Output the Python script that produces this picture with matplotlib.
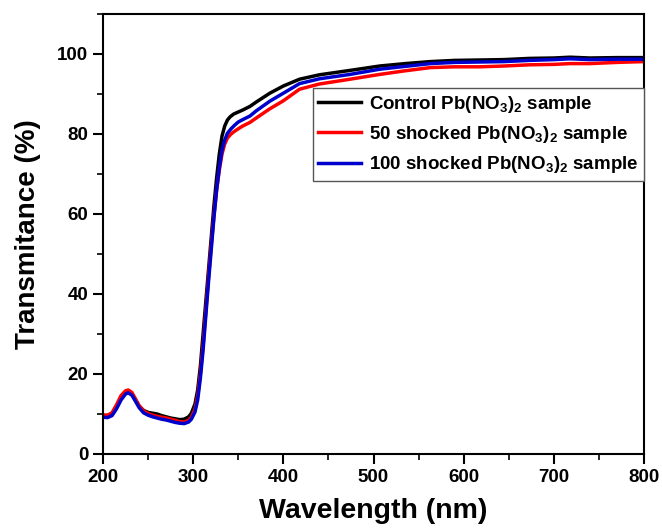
import matplotlib
matplotlib.use('Agg')
import matplotlib.pyplot as plt
from matplotlib.ticker import MultipleLocator

plt.rcParams['font.family'] = ['Liberation Sans', 'DejaVu Sans']
plt.rcParams['font.weight'] = 'bold'
plt.rcParams['mathtext.fontset'] = 'custom'
plt.rcParams['mathtext.rm'] = 'Liberation Sans:bold'
plt.rcParams['mathtext.bf'] = 'Liberation Sans:bold'
plt.rcParams['mathtext.it'] = 'Liberation Sans:bold'

# wavelength (nm) and transmittance (%)
wl_control = [200, 205, 210, 215, 220, 225, 228, 232, 236, 240, 245, 250, 255, 260, 265, 270,
              275, 280, 285, 290, 295, 298, 302, 305, 308, 311, 314, 317, 320, 323, 326, 329,
              332, 335, 338, 341, 345, 350, 355, 363, 370, 385, 400, 418, 440, 474, 507, 535,
              563, 590, 618, 645, 673, 700, 718, 740, 770, 800]
t_control = [9.7, 9.6, 10.0, 11.8, 14.0, 15.3, 15.5, 15.0, 13.5, 12.0, 10.9, 10.4, 10.2, 10.0, 9.6, 9.3,
             9.0, 8.8, 8.6, 8.7, 9.3, 10.2, 12.5, 16, 22, 30, 38, 46, 54, 62, 69, 75,
             79.5, 82, 83.5, 84.3, 85, 85.5, 86, 86.9, 88, 90.2, 92, 93.7, 94.8, 95.9, 97.0, 97.6,
             98.1, 98.4, 98.5, 98.6, 98.9, 99.0, 99.2, 99.0, 99.1, 99.1]

wl_50 = [200, 205, 210, 215, 220, 225, 228, 232, 236, 240, 245, 250, 255, 260, 265, 270,
         275, 280, 285, 290, 295, 298, 302, 305, 308, 311, 314, 317, 320, 323, 326, 329,
         332, 335, 338, 342, 346, 350, 355, 363, 370, 385, 400, 418, 440, 474, 507, 535,
         563, 590, 618, 645, 673, 700, 718, 740, 770, 800]
t_50 = [9.7, 9.7, 10.3, 12.3, 14.6, 15.8, 16.0, 15.4, 13.8, 12.1, 10.8, 10.1, 9.7, 9.4, 9.2, 9.0,
        8.7, 8.4, 8.1, 8.0, 8.4, 9.2, 11.2, 14.5, 20, 27, 35.5, 44, 52, 59.5, 66, 71,
        75, 77.5, 79, 80, 80.7, 81.3, 82, 82.9, 84, 86.3, 88.3, 91.2, 92.5, 93.7, 94.9, 95.8,
        96.6, 96.8, 96.8, 97.0, 97.3, 97.4, 97.6, 97.6, 97.9, 98.1]

wl_100 = wl_50
t_100 = [9.2, 9.1, 9.6, 11.3, 13.5, 15.0, 15.3, 14.7, 13.2, 11.6, 10.3, 9.7, 9.3, 9.0, 8.7, 8.5,
         8.2, 7.9, 7.7, 7.6, 8.0, 8.7, 10.5, 13.5, 19, 26, 34.5, 43, 51, 59, 66, 71.5,
         76, 78.5, 80.2, 81.3, 82.2, 83, 83.6, 84.5, 85.8, 88.2, 90.2, 92.6, 93.8, 94.9, 96.2, 96.9,
         97.6, 97.9, 98.0, 98.1, 98.4, 98.6, 98.8, 98.6, 98.7, 98.7]

labels = [r'Control Pb(NO$_3$)$_2$ sample',
          r'50 shocked Pb(NO$_3$)$_2$ sample',
          r'100 shocked Pb(NO$_3$)$_2$ sample']

fig = plt.figure(figsize=(6.62, 5.28), dpi=100)
ax = fig.add_axes([103 / 662, 74 / 528, 541 / 662, 440 / 528])

ax.plot(wl_control, t_control, color='black', lw=2.5, label=labels[0])
ax.plot(wl_50, t_50, color='#ff0000', lw=2.5, label=labels[1])
ax.plot(wl_100, t_100, color='#0000cc', lw=2.5, label=labels[2])

ax.set_xlim(200, 800)
ax.set_ylim(0, 110)
ax.xaxis.set_major_locator(MultipleLocator(100))
ax.xaxis.set_minor_locator(MultipleLocator(50))
ax.yaxis.set_major_locator(MultipleLocator(20))
ax.yaxis.set_minor_locator(MultipleLocator(10))
ax.tick_params(which='major', direction='out', length=7, width=1.5, labelsize=13.5)
ax.tick_params(which='minor', direction='out', length=4, width=1.2)
for s in ax.spines.values():
    s.set_linewidth(1.5)

ax.set_xlabel('Wavelength (nm)', fontsize=20.5, fontweight='bold', labelpad=9)
ax.set_ylabel('Transmitance (%)', fontsize=20, fontweight='bold', labelpad=12)

leg = ax.legend(loc='upper right', bbox_to_anchor=(1.0, 0.832), borderaxespad=0,
                fancybox=False, framealpha=1, edgecolor='#555555', fontsize=13.5,
                handlelength=2.3, handletextpad=0.4, labelspacing=0.5, borderpad=0.3)
leg.get_frame().set_linewidth(1.0)

fig.savefig('out.png', dpi=100)
